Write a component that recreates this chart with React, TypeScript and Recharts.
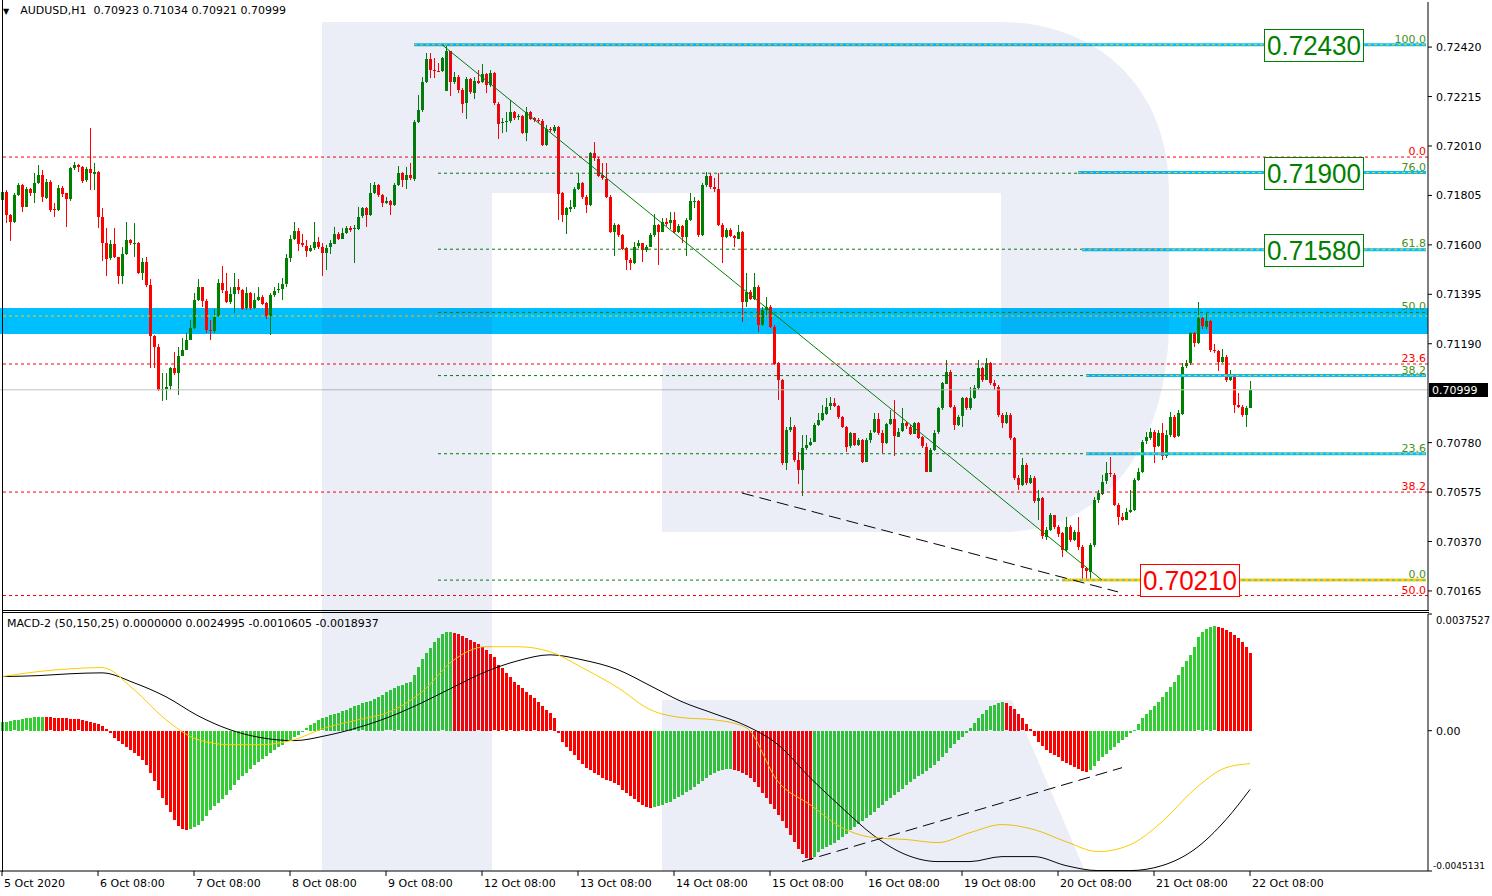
import React from "react";
import {
  ComposedChart,
  Bar,
  Line,
  XAxis,
  YAxis,
  ReferenceLine,
  ReferenceArea,
  ReferenceDot,
} from "recharts";

/* ── layout constants ───────────────────────── */
const SLOTS = 357; // 313 bars + empty shift on the right
const FONT = "DejaVu Sans, Verdana, sans-serif";
const BULL = "#008000";
const BEAR = "#ff0000";
const HIST_UP = "#32cd32";
const HIST_DOWN = "#ff0000";
const CYAN = "#00bfff";
const GOLD = "#ffcc00";
const FIB_GREEN = "#4a8f20";

/* ── axis labels ─────────────────────────────── */
const dateLabels = [
  "5 Oct 2020", "6 Oct 08:00", "7 Oct 08:00", "8 Oct 08:00", "9 Oct 08:00",
  "12 Oct 08:00", "13 Oct 08:00", "14 Oct 08:00", "15 Oct 08:00", "16 Oct 08:00",
  "19 Oct 08:00", "20 Oct 08:00", "21 Oct 08:00", "22 Oct 08:00",
];
const dateTicks = [0, 24, 48, 72, 96, 120, 144, 168, 192, 216, 240, 264, 288, 312];
const priceTicks = [72420, 72215, 72010, 71805, 71600, 71395, 71190, 70780, 70575, 70370, 70165];
const macdTicks = [0.0037527, 0, -0.0045131];
const macdTickText = ["0.0037527", "0.00", "-0.0045131"];

/* ── AUDUSD H1 candles, in points (1e-5) ─────── */
const firstOpen = 71786;
const gapOpens: Record<number, number> = { 111: 72239 };

const closes = [
  71820, 71723, 71692, 71806, 71848, 71758, 71831, 71813, 71855, 71889,
  71797, 71862, 71747, 71744, 71837, 71813, 71788, 71917, 71931, 71924,
  71866, 71913, 71896, 71903, 71717, 71609, 71544, 71603, 71548, 71471,
  71564, 71620, 71606, 71609, 71484, 71530, 71433, 71222, 71178, 71001,
  71002, 71012, 71088, 71067, 71139, 71164, 71205, 71254, 71371, 71424,
  71368, 71247, 71244, 71302, 71440, 71410, 71364, 71396, 71426, 71413,
  71336, 71399, 71336, 71371, 71385, 71357, 71305, 71392, 71410, 71415,
  71437, 71544, 71624, 71659, 71606, 71596, 71576, 71589, 71613, 71592,
  71569, 71589, 71606, 71647, 71627, 71650, 71671, 71664,
  71668, 71717, 71751,
  71723, 71813, 71848, 71806, 71772, 71781, 71765, 71848, 71899, 71869,
  71889, 71875, 72110, 72159, 72276, 72370, 72325, 72322, 72320, 72373, 72403,
  72276, 72297, 72242, 72186, 72286, 72231, 72280, 72272, 72307, 72262,
  72311, 72186, 72104, 72110, 72113, 72152, 72128, 72134, 72065, 72152,
  72124, 72117, 72115, 72014, 72079, 72073, 72090, 71813, 71723, 71751,
  71758, 71831, 71855, 71799, 71765, 71979, 71958, 71889, 71875, 71799,
  71654, 71682, 71641, 71585, 71537, 71526, 71592, 71606, 71578, 71592,
  71641, 71682, 71654, 71696, 71689,
  71703, 71654, 71678, 71631, 71703, 71782,
  71783, 71641, 71848, 71885, 71838, 71830, 71682, 71631, 71661, 71636,
  71627, 71654, 71364, 71406, 71378, 71426, 71267, 71330, 71343, 71261,
  71109, 71039, 70694, 70832, 70846, 70708, 70666, 70756, 70770, 70784,
  70853, 70874, 70901, 70929, 70943, 70932, 70887, 70846, 70763, 70818,
  70770, 70791, 70701, 70791, 70821, 70876, 70818, 70777, 70857, 70876,
  70805, 70825, 70860, 70846, 70818, 70863, 70802, 70763, 70659, 70749,
  70821, 70922, 71026, 71074, 70929, 70853, 70887, 70963, 70922, 70963,
  71005, 71088, 71039, 71109, 71026, 71012, 70894, 70860, 70894, 70798,
  70632, 70604, 70687, 70611, 70632, 70535, 70549, 70390, 70418, 70480,
  70431, 70404, 70335, 70431, 70376, 70411, 70348, 70259, 70245, 70355,
  70542, 70570, 70618, 70652, 70646, 70521, 70473, 70459, 70494, 70501,
  70625, 70659, 70784, 70802, 70825, 70763, 70818, 70722, 70811, 70887,
  70805, 70901, 71095, 71109, 71233, 71191, 71295, 71261, 71285, 71164,
  71161, 71115, 71136, 71039, 71053, 70936, 70929, 70894, 70923, 70999,
];

const highs = [
  71834, 71827, 71730, 71813, 71857, 71852, 71841, 71834, 71896, 71931,
  71910, 71875, 71869, 71772, 71848, 71844, 71811, 71924, 71945, 71935,
  71927, 71924, 72083, 71938, 71906, 71751, 71668, 71620, 71668, 71551,
  71592, 71696, 71623, 71692, 71613, 71544, 71551, 71457, 71226, 71191,
  71067, 71067, 71095, 71157, 71178, 71212, 71233, 71288, 71399, 71457,
  71426, 71374, 71288, 71336, 71457, 71512, 71482, 71426, 71482, 71460,
  71419, 71426, 71406, 71399, 71426, 71392, 71364, 71399, 71426, 71440,
  71461, 71564, 71641, 71696, 71668, 71647, 71620, 71599, 71696, 71634,
  71606, 71599, 71620, 71675, 71654, 71668, 71678, 71680,
  71682, 71758, 71758,
  71758, 71855, 71862, 71852, 71811, 71799, 71786, 71855, 71927, 71903,
  71924, 71938, 72117, 72221, 72297, 72394, 72394, 72373, 72352, 72380, 72430,
  72311, 72318, 72304, 72249, 72297, 72290, 72297, 72325, 72349, 72311,
  72325, 72318, 72193, 72124, 72152, 72200, 72156, 72142, 72138, 72173,
  72156, 72131, 72124, 72120, 72097, 72087, 72097, 72092, 71820, 71758,
  71786, 71841, 71896, 71862, 71806, 71986, 72028, 71965, 71938, 71940,
  71806, 71689, 71686, 71647, 71592, 71544, 71613, 71620, 71609, 71599,
  71648, 71730, 71686, 71710, 71710,
  71737, 71737, 71686, 71682, 71710, 71816,
  71800, 71788, 71855, 71903, 71896, 71876, 71896, 71689, 71668, 71668,
  71641, 71682, 71657, 71482, 71413, 71482, 71433, 71343, 71385, 71350,
  71267, 71115, 71042, 70846, 70887, 70853, 70742, 70811, 70811, 70798,
  70860, 70901, 70936, 70963, 70970, 70963, 70936, 70890, 70849, 70825,
  70821, 70798, 70793, 70798, 70832, 70901, 70901, 70832, 70863, 70915,
  70956, 70839, 70922, 70867, 70853, 70867, 70867, 70807, 70777, 70756,
  70832, 70929, 71033, 71122, 71081, 70936, 70894, 70970, 70970, 71012,
  71019, 71122, 71095, 71129, 71115, 71039, 71019, 70901, 70908, 70901,
  70805, 70646, 70715, 70694, 70646, 70641, 70583, 70556, 70431, 70487,
  70480, 70438, 70411, 70473, 70438, 70418, 70473, 70355, 70266, 70362,
  70556, 70583, 70646, 70701, 70722, 70652, 70528, 70487, 70507, 70583,
  70632, 70673, 70791, 70825, 70839, 70832, 70832, 70860, 70832, 70908,
  70894, 70915, 71109, 71122, 71240, 71240, 71364, 71302, 71319, 71288,
  71189, 71164, 71167, 71143, 71081, 71060, 70984, 70936, 70932, 71034,
];

const lows = [
  71783, 71689, 71620, 71689, 71802, 71737, 71758, 71799, 71772, 71852,
  71779, 71793, 71737, 71714, 71741, 71799, 71675, 71783, 71913, 71903,
  71855, 71862, 71827, 71827, 71668, 71533, 71468, 71537, 71544, 71440,
  71440, 71558, 71599, 71551, 71482, 71454, 71426, 71088, 71088, 70998,
  70950, 70956, 70998, 71063, 70977, 71136, 71161, 71205, 71249, 71364,
  71343, 71233, 71205, 71236, 71299, 71399, 71357, 71357, 71316, 71399,
  71330, 71332, 71330, 71332, 71368, 71350, 71295, 71226, 71385, 71399,
  71371, 71429, 71530, 71620, 71571, 71592, 71551, 71571, 71581, 71585,
  71468, 71495, 71564, 71603, 71620, 71623, 71645, 71655,
  71523, 71664, 71714,
  71675, 71719, 71811, 71799, 71758, 71769, 71723, 71761, 71844, 71841,
  71834, 71869, 71862, 72104, 72152, 72269, 72290, 72290, 72314, 72318, 72345,
  72214, 72269, 72228, 72145, 72124, 72225, 72207, 72269, 72269, 72228,
  72256, 72180, 72041, 72062, 72069, 72106, 72117, 72117, 72059, 72034,
  72117, 72110, 72104, 72010, 72010, 72065, 72065, 71703, 71696, 71647,
  71737, 71751, 71827, 71793, 71730, 71761, 71951, 71882, 71869, 71793,
  71647, 71551, 71634, 71581, 71495, 71495, 71520, 71585, 71530, 71571,
  71589, 71636, 71516, 71650, 71675,
  71668, 71650, 71648, 71606, 71551, 71700,
  71755, 71636, 71636, 71841, 71830, 71820, 71675, 71523, 71627, 71631,
  71592, 71623, 71281, 71343, 71371, 71371, 71240, 71263, 71302, 71254,
  71102, 70956, 70687, 70666, 70825, 70701, 70611, 70556, 70749, 70763,
  70780, 70846, 70871, 70894, 70915, 70926, 70880, 70839, 70742, 70760,
  70766, 70763, 70694, 70697, 70780, 70818, 70811, 70735, 70774, 70853,
  70722, 70802, 70821, 70839, 70811, 70816, 70798, 70756, 70655, 70655,
  70746, 70818, 70918, 71023, 70922, 70832, 70849, 70846, 70915, 70918,
  70959, 70998, 71033, 71037, 71019, 70998, 70887, 70839, 70857, 70791,
  70625, 70583, 70600, 70604, 70608, 70528, 70459, 70383, 70376, 70411,
  70424, 70390, 70307, 70328, 70369, 70373, 70335, 70213, 70210, 70213,
  70348, 70528, 70563, 70611, 70639, 70514, 70438, 70452, 70456, 70487,
  70494, 70618, 70655, 70777, 70791, 70694, 70760, 70708, 70715, 70805,
  70798, 70802, 70894, 71088, 71102, 71178, 71189, 71254, 71254, 71157,
  71150, 71078, 71109, 71033, 71037, 70901, 70922, 70887, 70846, 70921,
];

/* ── MACD-2 (50,150,25): histogram in 1e-5 ───── */
const histogram = [
  29,
  29, 31, 33, 35, 37, 40, 42, 44, 45, 45, 44, 43, 42, 42, 41, 40, 39, 38, 36, 34, 32, 29, 25, 21, 16,
  5, -8, -22, -32, -42, -52, -61, -70, -80, -92, -109, -135, -160, -190, -215, -238, -262, -286, -305, -315, -318,
  -316, -310, -302, -290, -272, -254, -242, -230, -218, -206, -190, -174, -158, -146, -134,
  -122, -110, -100, -90, -80, -70, -62, -52, -44, -36, -28, -20, -12, -3, 8,
  18, 26, 35, 40, 45, 50, 54, 58, 63, 68, 73, 78, 84, 88, 92, 97, 102, 109, 116, 123,
  130, 138, 143, 148, 153, 158, 180, 206, 230, 250, 267, 285, 299, 310, 318,
  318, 315, 311, 305, 299, 293, 286, 278, 270, 260, 248, 236, 212, 200, 186, 172, 158, 148, 136, 126,
  116, 104, 92, 80, 68, 56, 42, -5,
  -35, -50, -63, -77, -92, -105, -119, -127, -134, -141, -150, -158,
  -162,
  -166, -174, -190, -200, -210, -220, -228, -238, -245, -248,
  -246, -242, -237, -233, -228, -220, -212, -205, -197, -190, -180, -170,
  -160, -150, -141, -136, -130, -125, -123, -123, -125, -128, -134, -141,
  -152, -165, -180, -198, -216, -234, -252, -270, -290, -312, -335, -358, -378, -395, -410, -415, -405,
  -390, -380, -373, -367, -360, -350, -340, -330, -318, -309, -299, -290, -280, -270, -259, -248, -237, -226, -215,
  -205, -195, -185, -174, -164, -155, -146, -137, -128, -119, -108, -96, -84, -70, -55, -42, -30, -18, -5,
  10, 25, 42, 55, 68, 78, 84, 90, 92, 88, 80, 70, 55, 40, 22, 5, -15,
  -35, -48, -60, -70, -77, -85, -95, -102, -109, -115, -122, -128, -132,
  -125, -112, -98, -85, -73, -62, -50, -38, -28, -18, -8, 2, 20,
  42, 55, 68, 80, 93, 108, 125, 142, 158, 180, 205, 225, 244, 270,
  300, 318, 326, 334, 336, 334, 330, 325, 318, 309, 298, 285, 270, 250,
];

/* MACD lines, read at these bar positions */
const lineAt = [
  0, 9, 17, 25, 33, 41, 49, 57, 65, 73, 81, 89, 97, 105, 113, 121, 129, 137, 145, 154,
  162, 170, 178, 186, 194, 202, 210, 218, 226, 234, 242, 250, 258, 266, 274, 282, 290, 298, 306, 312,
];
const macdBlack = [
  0.00174, 0.00177, 0.00183, 0.00186, 0.00154, 0.00109, 0.00048, 0.00003, -0.00023, -0.00032,
  -0.00016, 0.0001, 0.00045, 0.0009, 0.00141, 0.0019, 0.00225, 0.00244, 0.00228, 0.00196,
  0.00145, 0.00093, 0.00055, 0.00016, -0.00045, -0.00151, -0.00248, -0.00338, -0.00399, -0.00421,
  -0.00421, -0.00405, -0.00405, -0.00434, -0.0045, -0.0045, -0.00434, -0.00383, -0.00286, -0.00189,
];
const macdYellow = [
  0.00174, 0.0019, 0.00199, 0.00203, 0.00132, 0.00035, -0.00029, -0.00045, -0.00045, -0.00029,
  0.0001, 0.00035, 0.00061, 0.00125, 0.00228, 0.0027, 0.0027, 0.00254, 0.00203, 0.00138,
  0.00068, 0.00042, 0.00035, 0.0001, -0.00164, -0.00238, -0.00312, -0.00344, -0.0035, -0.0036,
  -0.00328, -0.00302, -0.00318, -0.00357, -0.00389, -0.00367, -0.00293, -0.0019, -0.00119, -0.00106,
];

/* ── drawn levels ────────────────────────────── */
const redFib = [71964, 71106, 70575, 70146];
const redFibText = ["0.0", "23.6", "38.2", "50.0"];
const greenFib = [72430, 71897, 71582, 71320, 71058, 70734, 70210];
const greenFibText = ["100.0", "76.0", "61.8", "50.0", "38.2", "23.6", "0.0"];
const cyanLevels = [72430, 71900, 71580, 71058, 70734];
const cyanFrom = [103, 269, 270, 271, 271];
const boxedLevels = [72430, 71900, 71580];
const lowLevel = 70210;
const band = [71230, 71338];
const goldMid = 71305;
const lastPrice = 70999;
const trendDown = [{ x: 110, y: 72430 }, { x: 275, y: 70210 }];
const priceDiv = [{ x: 185, y: 70571 }, { x: 279, y: 70161 }];
const macdDiv = [{ x: 200, y: -0.00421 }, { x: 280, y: -0.00119 }];

/* ── rows ────────────────────────────────────── */
let upColor = true;
const rows = Array.from({ length: SLOTS }, (_, i) => {
  const row: any = { i };
  if (i < closes.length) {
    const o = i === 0 ? firstOpen : gapOpens[i] ?? closes[i - 1];
    row.o = o;
    row.h = highs[i];
    row.l = lows[i];
    row.c = closes[i];
    row.range = [lows[i], highs[i]];
    row.hist = histogram[i] / 1e5;
    if (i > 0 && histogram[i] > histogram[i - 1]) upColor = true;
    else if (i > 0 && histogram[i] < histogram[i - 1]) upColor = false;
    row.histUp = upColor;
  }
  const k = lineAt.indexOf(i);
  if (k >= 0) {
    row.black = macdBlack[k];
    row.yellow = macdYellow[k];
  }
  return row;
});

/* ── shapes ──────────────────────────────────── */
const Candle = (props: any) => {
  const { x, y, width, height, payload } = props;
  if (payload.c == null) return null;
  const top = Math.min(y, y + height);
  const span = Math.abs(height);
  const k = span / (payload.h - payload.l);
  const cx = Math.round(x + width / 2);
  const yo = top + (payload.h - payload.o) * k;
  const yc = top + (payload.h - payload.c) * k;
  const color = payload.c >= payload.o ? BULL : BEAR;
  const by = Math.round(Math.min(yo, yc));
  const bh = Math.max(1, Math.round(Math.abs(yo - yc)));
  return (
    <g shapeRendering="crispEdges">
      <rect x={cx} y={Math.round(top)} width={1} height={Math.max(1, Math.round(span))} fill={color} />
      <rect x={cx - 1} y={by} width={3} height={bh} fill={color} />
    </g>
  );
};

const HistBar = (props: any) => {
  const { x, y, width, height, payload } = props;
  if (payload.hist == null) return null;
  const top = Math.min(y, y + height);
  const cx = Math.round(x + width / 2);
  return (
    <rect
      x={cx - 1}
      y={Math.round(top)}
      width={3}
      height={Math.max(1, Math.round(Math.abs(height)))}
      fill={payload.histUp ? HIST_UP : HIST_DOWN}
      shapeRendering="crispEdges"
    />
  );
};

const PriceTick = (props: any) => {
  const { x, y, payload } = props;
  return (
    <text x={x} y={y + 4} fontSize={11} fontFamily={FONT} fill="#000">
      {(payload.value / 1e5).toFixed(5)}
    </text>
  );
};

const MacdTick = (props: any) => {
  const { x, y, payload } = props;
  const k = macdTicks.indexOf(payload.value);
  const dy = k === 0 ? 10 : k === 2 ? -2 : 4;
  const size = k === 1 ? 11 : k === 0 ? 10 : 9;
  return (
    <text x={k === 2 ? x - 3 : x} y={y + dy} fontSize={size} fontFamily={FONT} fill="#000">
      {macdTickText[k]}
    </text>
  );
};

const DateTick = (props: any) => {
  const { x, y, payload } = props;
  const k = dateTicks.indexOf(payload.value);
  return (
    <text x={x + 2} y={y + 11} fontSize={11} fontFamily={FONT} fill="#000">
      {dateLabels[k]}
    </text>
  );
};

const fibText = (text: string, color: string) => (p: any) => (
  <text x={p.cx} y={p.cy - 2} textAnchor="end" fontSize={11} fontFamily={FONT} fill={color}>
    {text}
  </text>
);

const priceBox = (text: string, color: string) => (p: any) => (
  <g>
    <rect x={Math.round(p.cx) - 49.5} y={Math.round(p.cy) - 15.5} width={99} height={32} fill="#fff" stroke={color} />
    <text
      x={p.cx}
      y={p.cy + 10}
      textAnchor="middle"
      fontSize={28}
      fontFamily="Liberation Sans, Arial, sans-serif"
      fill={color}
      textLength={94}
      lengthAdjust="spacingAndGlyphs"
    >
      {text}
    </text>
  </g>
);

const lastTag = (p: any) => (
  <g>
    <rect x={Math.round(p.cx) + 3} y={Math.round(p.cy) - 7} width={59} height={14} fill="#000" />
    <text x={Math.round(p.cx) + 6} y={p.cy + 4} fontSize={11} fontFamily={FONT} fill="#fff">
      {(lastPrice / 1e5).toFixed(5)}
    </text>
  </g>
);

/* ── watermark + frames ──────────────────────── */
const Overlay = () => (
  <svg width={1492} height={896} style={{ position: "absolute", left: 0, top: 0, pointerEvents: "none" }}>
    <g fill="rgb(30,70,150)" fillOpacity={0.09}>
      <path d="M322 22 H1000 C1100 22 1169 90 1169 190 V320 C1169 440 1110 532 1000 532 H662 V363 H1001 V193 H492 V871 H322 Z" />
      <path d="M662 700 H1012 L1085 871 H662 Z" />
    </g>
    <g stroke="#000" strokeWidth={1} shapeRendering="crispEdges">
      <line x1={2.5} y1={0} x2={2.5} y2={872} />
      <line x1={2} y1={610.5} x2={1429} y2={610.5} />
      <line x1={2} y1={612.5} x2={1429} y2={612.5} />
    </g>
  </svg>
);

export default function App() {
  return (
    <div style={{ position: "relative", width: 1492, height: 896, background: "#fff", overflow: "hidden" }}>
      <style>{"body{margin:0}"}</style>

      {/* ── price pane ── */}
      <div style={{ position: "absolute", left: 0, top: 0 }}>
        <ComposedChart width={1492} height={612} data={rows} margin={{ top: 2, right: 0, bottom: 2, left: 0 }} barCategoryGap={0}>
          <XAxis dataKey="i" type="category" hide />
          <YAxis
            orientation="right"
            width={64}
            domain={[70086, 72607]}
            allowDataOverflow
            ticks={priceTicks}
            interval={0}
            tick={<PriceTick />}
            tickSize={4}
            tickMargin={4}
            axisLine={{ stroke: "#000" }}
            tickLine={{ stroke: "#000" }}
          />
          <ReferenceArea y1={band[0]} y2={band[1]} fill={CYAN} fillOpacity={1} stroke="none" />
          <ReferenceLine y={lastPrice} stroke="#c0c0c0" />
          {redFib.map((v) => (
            <ReferenceLine key={"r" + v} y={v} stroke="#ff0000" strokeDasharray="3 3" />
          ))}
          <ReferenceLine y={goldMid} stroke={GOLD} strokeDasharray="3 3" />
          {greenFib.map((v) => (
            <ReferenceLine key={"g" + v} segment={[{ x: 109, y: v }, { x: 356, y: v }]} stroke="#008000" strokeDasharray="3 3" />
          ))}
          {cyanLevels.map((v, k) => (
            <ReferenceLine key={"c" + v} segment={[{ x: cyanFrom[k], y: v }, { x: 356, y: v }]} stroke={CYAN} strokeWidth={3} />
          ))}
          {cyanLevels.map((v, k) => (
            <ReferenceLine key={"cy" + v} segment={[{ x: cyanFrom[k], y: v }, { x: 356, y: v }]} stroke={GOLD} strokeDasharray="3 3" />
          ))}
          <ReferenceLine segment={[{ x: 265, y: lowLevel }, { x: 356, y: lowLevel }]} stroke={GOLD} strokeWidth={3} />
          <ReferenceLine segment={[{ x: 265, y: lowLevel }, { x: 356, y: lowLevel }]} stroke={CYAN} strokeDasharray="3 3" />
          <ReferenceLine segment={trendDown} stroke="#008000" />
          <ReferenceLine segment={priceDiv} stroke="#000" strokeDasharray="12 6" />

          <Bar dataKey="range" shape={<Candle />} isAnimationActive={false} />

          {greenFib.map((v, k) => (
            <ReferenceDot key={"gt" + v} x={356} y={v} shape={fibText(greenFibText[k], FIB_GREEN)} />
          ))}
          {redFib.map((v, k) => (
            <ReferenceDot key={"rt" + v} x={356} y={v} shape={fibText(redFibText[k], "#ff0000")} />
          ))}
          {boxedLevels.map((v) => (
            <ReferenceDot key={"b" + v} x={328} y={v} shape={priceBox((v / 1e5).toFixed(5), "#008000")} />
          ))}
          <ReferenceDot x={297} y={lowLevel} shape={priceBox((lowLevel / 1e5).toFixed(5), "#ff0000")} />
          <ReferenceDot x={356} y={lastPrice} shape={lastTag} />
        </ComposedChart>
      </div>

      {/* ── MACD pane ── */}
      <div style={{ position: "absolute", left: 0, top: 612 }}>
        <ComposedChart width={1492} height={284} data={rows} margin={{ top: 2, right: 0, bottom: 0, left: 0 }} barCategoryGap={0}>
          <XAxis
            dataKey="i"
            type="category"
            height={25}
            ticks={dateTicks}
            interval={0}
            tick={<DateTick />}
            tickSize={5}
            tickMargin={0}
            axisLine={{ stroke: "#000" }}
            tickLine={{ stroke: "#000" }}
          />
          <YAxis
            orientation="right"
            width={64}
            domain={[macdTicks[2], macdTicks[0]]}
            allowDataOverflow
            ticks={macdTicks}
            interval={0}
            tick={<MacdTick />}
            tickSize={4}
            tickMargin={4}
            axisLine={{ stroke: "#000" }}
            tickLine={{ stroke: "#000" }}
          />
          <Bar dataKey="hist" shape={<HistBar />} isAnimationActive={false} />
          <Line dataKey="black" type="monotone" stroke="#000" strokeWidth={1} dot={false} connectNulls isAnimationActive={false} />
          <Line dataKey="yellow" type="monotone" stroke={GOLD} strokeWidth={1} dot={false} connectNulls isAnimationActive={false} />
          <ReferenceLine segment={macdDiv} stroke="#000" strokeDasharray="12 6" />
        </ComposedChart>
      </div>

      <Overlay />

      <div style={{ position: "absolute", left: 3, top: 4, font: `11px ${FONT}`, whiteSpace: "pre", color: "#000" }}>
        <span style={{ fontSize: 8, marginRight: 11 }}>▼</span>
        {"AUDUSD,H1  0.70923 0.71034 0.70921 0.70999"}
      </div>
      <div style={{ position: "absolute", left: 7, top: 617, font: `11px ${FONT}`, whiteSpace: "pre", color: "#000" }}>
        {"MACD-2 (50,150,25) 0.0000000 0.0024995 -0.0010605 -0.0018937"}
      </div>
    </div>
  );
}
